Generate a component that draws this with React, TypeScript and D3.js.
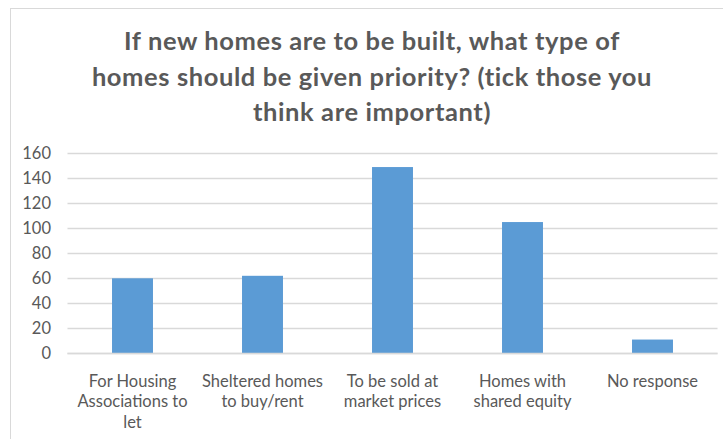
import React from "react";
import * as d3 from "d3";

const categories = [
  "For Housing Associations to let",
  "Sheltered homes to buy/rent",
  "To be sold at market prices",
  "Homes with shared equity",
  "No response",
];
const categoryLines = [
  ["For Housing", "Associations to", "let"],
  ["Sheltered homes", "to buy/rent"],
  ["To be sold at", "market prices"],
  ["Homes with", "shared equity"],
  ["No response"],
];
const values = [60, 62, 149, 105, 11];
const yTicks = [0, 20, 40, 60, 80, 100, 120, 140, 160];
const titleLines = [
  "If new homes are to be built, what type of",
  "homes should be given priority? (tick those you",
  "think are important)",
];

const W = 723;
const H = 439;
const FONT = "Lato, 'Open Sans', sans-serif";
const TEXT = "#595959";
const GRID = "#d9d9d9";
const BAR = "#5b9bd5";

export default function App() {
  const x = d3
    .scaleBand<string>()
    .domain(categories)
    .range([67.5, 717.5])
    .paddingInner(0.685)
    .paddingOuter(0.3425);
  const y = d3.scaleLinear().domain([0, 160]).range([353.3, 153.3]);

  return (
    <svg
      width={W}
      height={H}
      style={{ position: "absolute", left: 0, top: 0, background: "#fff" }}
    >
      <rect x={0} y={0} width={W} height={H} fill="#fff" />
      <rect
        x={10.5}
        y={8.5}
        width={W + 20}
        height={H + 20}
        fill="#fff"
        stroke={GRID}
        strokeWidth={1}
      />
      {titleLines.map((t, i) => (
        <text
          key={t}
          x={372}
          y={50 + i * 35.5}
          textAnchor="middle"
          fontFamily={FONT}
          fontWeight={700}
          fontSize={25.5}
          letterSpacing={0.6}
          fill={TEXT}
        >
          {t}
        </text>
      ))}
      {yTicks.map((t) => (
        <g key={t}>
          <line
            x1={67.5}
            x2={717.5}
            y1={Math.round(y(t)) + 0.5}
            y2={Math.round(y(t)) + 0.5}
            stroke={GRID}
            strokeWidth={1.3}
          />
          <text
            x={51}
            y={y(t)}
            dy="0.35em"
            textAnchor="end"
            fontFamily={FONT}
            fontSize={16.5}
            fill={TEXT}
          >
            {t}
          </text>
        </g>
      ))}
      {categories.map((c, i) => (
        <rect
          key={c}
          x={x(c)}
          y={y(values[i])}
          width={x.bandwidth()}
          height={y(0) - y(values[i])}
          fill={BAR}
        />
      ))}
      <line
        x1={67.5}
        x2={717.5}
        y1={Math.round(y(0)) + 0.5}
        y2={Math.round(y(0)) + 0.5}
        stroke={GRID}
        strokeWidth={1.3}
      />
      {categories.map((c, i) => (
        <text
          key={c}
          x={(x(c) as number) + x.bandwidth() / 2}
          textAnchor="middle"
          fontFamily={FONT}
          fontSize={16.5}
          fill={TEXT}
        >
          {categoryLines[i].map((l, j) => (
            <tspan key={j} x={(x(c) as number) + x.bandwidth() / 2} y={386.5 + j * 20.7}>
              {l}
            </tspan>
          ))}
        </text>
      ))}
    </svg>
  );
}
